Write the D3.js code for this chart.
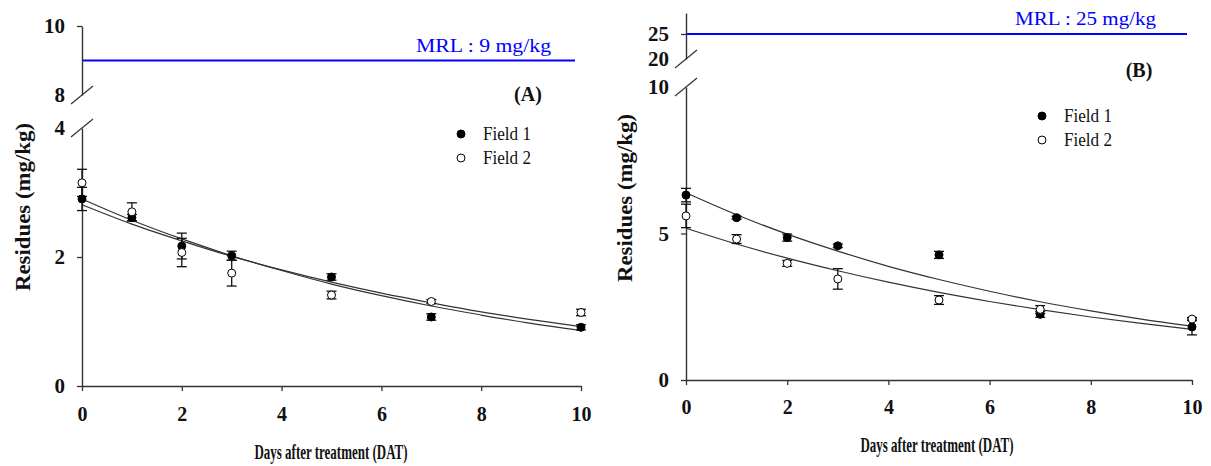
<!DOCTYPE html>
<html><head><meta charset="utf-8">
<script src="https://cdn.jsdelivr.net/npm/d3@7"></script>
<style>body{margin:0;background:#fff}svg{display:block}</style>
</head><body>
<svg id="chart" width="1211" height="466"></svg>
<script>
// ---------- data ----------
const days = [0, 1, 2, 3, 5, 7, 10];
const xTicks = [0, 2, 4, 6, 8, 10];
const fitDays = [0, 1, 2, 3, 4, 5, 6, 7, 8, 9, 10];
const legendLabels = ["Field 1", "Field 2"];

// Panel (A)
const aField1 = [2.90, 2.61, 2.17, 2.02, 1.69, 1.07, 0.91];
const aField1Err = [0.18, 0.05, 0.20, 0.07, 0.05, 0.05, 0.04];
const aField2 = [3.15, 2.70, 2.07, 1.75, 1.41, 1.31, 1.14];
const aField2Err = [0.21, 0.14, 0.22, 0.20, 0.06, 0.03, 0.05];
const aFit1 = [2.90, 2.57, 2.28, 2.02, 1.79, 1.58, 1.40, 1.24, 1.10, 0.97, 0.86];
const aFit2 = [2.81, 2.51, 2.25, 2.01, 1.80, 1.61, 1.44, 1.29, 1.15, 1.03, 0.92];
const aLowTicks = [0, 2, 4];
const aHighTicks = [8, 10];
const aMRL = 9;
const aMRLLabel = "MRL : 9 mg/kg";
const aTag = "(A)";

// Panel (B)
const bField1 = [6.31, 5.54, 4.86, 4.58, 4.27, 2.24, 1.81];
const bField1Err = [0.23, 0.05, 0.12, 0.06, 0.12, 0.10, 0.27];
const bField2 = [5.60, 4.81, 3.98, 3.45, 2.73, 2.41, 2.08];
const bField2Err = [0.40, 0.15, 0.10, 0.35, 0.15, 0.13, 0.05];
const bFit1 = [6.39, 5.64, 4.98, 4.40, 3.88, 3.43, 3.03, 2.67, 2.36, 2.08, 1.84];
const bFit2 = [5.18, 4.64, 4.16, 3.73, 3.34, 2.99, 2.68, 2.40, 2.15, 1.93, 1.73];
const bLowTicks = [0, 5, 10];
const bHighTicks = [20, 25];
const bMRL = 25;
const bMRLLabel = "MRL : 25 mg/kg";
const bTag = "(B)";

const xTitle = "Days after treatment (DAT)";
const yTitle = "Residues (mg/kg)";

// ---------- layout ----------
const FONT = "'Liberation Serif','Times New Roman',serif";
const AX = "#333";
const svg = d3.select("#chart");
const fmt = d3.format("d");

const panels = [
  { f1: aField1, e1: aField1Err, f2: aField2, e2: aField2Err, fit1: aFit1, fit2: aFit2,
    lowTicks: aLowTicks, highTicks: aHighTicks, mrl: aMRL, mrlLabel: aMRLLabel, tag: aTag,
    xr: [82, 581], lowDom: [0, 4], lowR: [386, 128], highDom: [8, 10], highR: [95, 26],
    mrlEnd: 575, mrlTextX: 551, mrlTextY: 52, mrlTextLen: 135,
    tagX: 528, tagY: 101, legX: 461, legY: 134,
    xTitleX: 331, xTitleY: 459, yTitleX: 30, yTitleY: 207, tickLabelPad: 16 },
  { f1: bField1, e1: bField1Err, f2: bField2, e2: bField2Err, fit1: bFit1, fit2: bFit2,
    lowTicks: bLowTicks, highTicks: bHighTicks, mrl: bMRL, mrlLabel: bMRLLabel, tag: bTag,
    xr: [686, 1192], lowDom: [0, 10], lowR: [380, 87], highDom: [20, 29.2], highR: [59, 13],
    mrlEnd: 1187, mrlTextX: 1156, mrlTextY: 25, mrlTextLen: 141,
    tagX: 1139, tagY: 77, legX: 1042, legY: 116,
    xTitleX: 937, xTitleY: 452, yTitleX: 632, yTitleY: 198, tickLabelPad: 15 }
];

panels.forEach(p => {
  const g = svg.append("g");
  const x = d3.scaleLinear().domain([0, 10]).range(p.xr);
  const yLow = d3.scaleLinear().domain(p.lowDom).range(p.lowR);
  const yHigh = d3.scaleLinear().domain(p.highDom).range(p.highR);
  const ax = x(0);

  const xAxis = g.append("g").attr("transform", `translate(0,${yLow(0)})`)
    .call(d3.axisBottom(x).tickValues(xTicks).tickFormat(fmt).tickSize(5).tickSizeOuter(0).tickPadding(p.tickLabelPad));
  const yAxisL = g.append("g").attr("transform", `translate(${ax},0)`)
    .call(d3.axisLeft(yLow).tickValues(p.lowTicks).tickFormat(fmt).tickSize(5).tickSizeOuter(0).tickPadding(12));
  const yAxisH = g.append("g").attr("transform", `translate(${ax},0)`)
    .call(d3.axisLeft(yHigh).tickValues(p.highTicks).tickFormat(fmt).tickSize(5).tickSizeOuter(0).tickPadding(12));
  [xAxis, yAxisL, yAxisH].forEach(a => {
    a.selectAll("path.domain").attr("stroke", AX).attr("stroke-width", 1.4);
    a.selectAll(".tick line").attr("stroke", AX).attr("stroke-width", 1.3);
    a.selectAll(".tick text").attr("fill", "#111").style("font-family", FONT)
      .style("font-weight", "bold");
  });
  xAxis.selectAll(".tick text").style("font-size", "20px");
  yAxisL.selectAll(".tick text").style("font-size", "21px");
  yAxisH.selectAll(".tick text").style("font-size", "21px");
  yAxisL.selectAll(".tick").filter(d => d === p.lowDom[1]).select("line").remove();
  yAxisH.selectAll(".tick").filter(d => d === p.highDom[0]).select("line").remove();

  // break slashes
  [yHigh(p.highDom[0]), yLow(p.lowDom[1])].forEach(yy => {
    g.append("line").attr("x1", ax - 11).attr("y1", yy + 9).attr("x2", ax + 11).attr("y2", yy - 9)
      .attr("stroke", AX).attr("stroke-width", 1.2);
  });

  // MRL line and text
  g.append("line").attr("x1", ax + 1).attr("x2", p.mrlEnd)
    .attr("y1", yHigh(p.mrl)).attr("y2", yHigh(p.mrl))
    .attr("stroke", "#0000ff").attr("stroke-width", 2);
  g.append("text").attr("x", p.mrlTextX).attr("y", p.mrlTextY).attr("text-anchor", "end")
    .attr("textLength", p.mrlTextLen).attr("lengthAdjust", "spacingAndGlyphs")
    .style("font-family", FONT).style("font-size", "19px").attr("fill", "#0000ff").text(p.mrlLabel);

  // panel tag
  g.append("text").attr("x", p.tagX).attr("y", p.tagY).attr("text-anchor", "middle")
    .style("font-family", FONT).style("font-size", "20px").style("font-weight", "bold")
    .attr("fill", "#111").text(p.tag);

  // fitted curves
  const line = d3.line().x((d, i) => x(fitDays[i])).y(d => yLow(d)).curve(d3.curveMonotoneX);
  [p.fit1, p.fit2].forEach(fit => {
    g.append("path").datum(fit).attr("d", line).attr("fill", "none")
      .attr("stroke", "#333").attr("stroke-width", 1.2);
  });

  // error bars + markers
  const series = [
    { v: p.f1, e: p.e1, fill: "#000" },
    { v: p.f2, e: p.e2, fill: "#fff" }
  ];
  series.forEach(s => {
    const eg = g.append("g");
    s.v.forEach((v, i) => {
      const cx = x(days[i]);
      const top = yLow(v + s.e[i]), bot = yLow(v - s.e[i]);
      eg.append("line").attr("x1", cx).attr("x2", cx).attr("y1", top).attr("y2", bot)
        .attr("stroke", "#111").attr("stroke-width", 1.3);
      [top, bot].forEach(yy => eg.append("line").attr("x1", cx - 5).attr("x2", cx + 5)
        .attr("y1", yy).attr("y2", yy).attr("stroke", "#111").attr("stroke-width", 1.3));
    });
  });
  series.forEach(s => {
    g.append("g").selectAll("circle").data(s.v).join("circle")
      .attr("cx", (d, i) => x(days[i])).attr("cy", d => yLow(d)).attr("r", 4)
      .attr("fill", s.fill).attr("stroke", "#000").attr("stroke-width", 1);
  });

  // legend
  legendLabels.forEach((lab, i) => {
    const ly = p.legY + i * 24;
    g.append("circle").attr("cx", p.legX).attr("cy", ly).attr("r", 4)
      .attr("fill", i === 0 ? "#000" : "#fff").attr("stroke", "#000");
    g.append("text").attr("x", p.legX + 22).attr("y", ly + 6)
      .attr("textLength", 48).attr("lengthAdjust", "spacingAndGlyphs")
      .style("font-family", FONT).style("font-size", "19px").attr("fill", "#111").text(lab);
  });

  // axis titles
  g.append("text").attr("x", p.xTitleX).attr("y", p.xTitleY).attr("text-anchor", "middle")
    .attr("textLength", 153).attr("lengthAdjust", "spacingAndGlyphs")
    .style("font-family", FONT).style("font-size", "22px").style("font-weight", "bold")
    .attr("fill", "#111").text(xTitle);
  g.append("text").attr("transform", `translate(${p.yTitleX},${p.yTitleY}) rotate(-90)`)
    .attr("text-anchor", "middle").attr("textLength", 168).attr("lengthAdjust", "spacingAndGlyphs")
    .style("font-family", FONT).style("font-size", "22px").style("font-weight", "bold")
    .attr("fill", "#111").text(yTitle);
});
</script>
</body></html>
